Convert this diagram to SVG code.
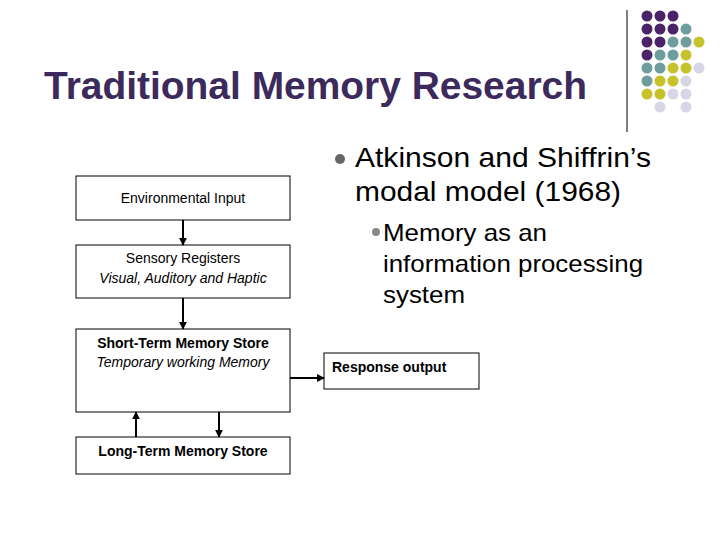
<svg xmlns="http://www.w3.org/2000/svg" width="720" height="540" viewBox="0 0 720 540">
<style>
.box{fill:#fff;stroke:#000;stroke-width:1}
.t{font-family:"Liberation Sans",Arial,sans-serif;fill:#000}
.c{stroke:#000;stroke-width:2;fill:none;marker-end:url(#a)}
.P{fill:#4a2368}.T{fill:#6f9c9c}.Y{fill:#c6c22c}.L{fill:#d6d6e6}
</style>
<defs><marker id="a" viewBox="0 0 10 10" refX="9" refY="5" markerWidth="4" markerHeight="4" orient="auto"><path d="M0,0L10,5L0,10z" fill="#000"/></marker></defs>
<rect width="720" height="540" fill="#fff"/>
<g id="decor">
<line x1="627" y1="10" x2="627" y2="132" stroke="#000" stroke-width="1"/>
<g>
<circle class="P" cx="647" cy="16" r="5.5"/><circle class="P" cx="660" cy="16" r="5.5"/><circle class="P" cx="673" cy="16" r="5.5"/>
<circle class="P" cx="647" cy="29" r="5.5"/><circle class="P" cx="660" cy="29" r="5.5"/><circle class="P" cx="673" cy="29" r="5.5"/><circle class="T" cx="686" cy="29" r="5.5"/>
<circle class="P" cx="647" cy="42" r="5.5"/><circle class="P" cx="660" cy="42" r="5.5"/><circle class="T" cx="673" cy="42" r="5.5"/><circle class="T" cx="686" cy="42" r="5.5"/><circle class="Y" cx="699" cy="42" r="5.5"/>
<circle class="P" cx="647" cy="55" r="5.5"/><circle class="T" cx="660" cy="55" r="5.5"/><circle class="T" cx="673" cy="55" r="5.5"/><circle class="Y" cx="686" cy="55" r="5.5"/>
<circle class="T" cx="647" cy="68" r="5.5"/><circle class="T" cx="660" cy="68" r="5.5"/><circle class="Y" cx="673" cy="68" r="5.5"/><circle class="Y" cx="686" cy="68" r="5.5"/><circle class="L" cx="699" cy="68" r="5.5"/>
<circle class="T" cx="647" cy="81" r="5.5"/><circle class="Y" cx="660" cy="81" r="5.5"/><circle class="Y" cx="673" cy="81" r="5.5"/><circle class="L" cx="686" cy="81" r="5.5"/>
<circle class="Y" cx="647" cy="94" r="5.5"/><circle class="Y" cx="660" cy="94" r="5.5"/><circle class="L" cx="673" cy="94" r="5.5"/><circle class="L" cx="686" cy="94" r="5.5"/>
<circle class="L" cx="660" cy="107" r="5.5"/><circle class="L" cx="686" cy="107" r="5.5"/>
</g>
<text x="44" y="99" class="t" font-size="38" font-weight="bold" textLength="543" lengthAdjust="spacingAndGlyphs" style="fill:#3d2a5c">Traditional Memory Research</text>
</g>
<g id="bullets">
<circle cx="340" cy="159" r="5" fill="#666"/>
<text class="t" x="355" y="167" font-size="28" textLength="296" lengthAdjust="spacingAndGlyphs">Atkinson and Shiffrin’s</text>
<text class="t" x="355" y="201" font-size="28" textLength="266" lengthAdjust="spacingAndGlyphs">modal model (1968)</text>
<circle cx="376" cy="232" r="4" fill="#888"/>
<text class="t" x="383" y="241" font-size="24" textLength="164" lengthAdjust="spacingAndGlyphs">Memory as an</text>
<text class="t" x="383" y="272" font-size="24" textLength="260" lengthAdjust="spacingAndGlyphs">information processing</text>
<text class="t" x="383" y="303" font-size="24" textLength="82" lengthAdjust="spacingAndGlyphs">system</text>
</g>
<g id="env"><rect class="box" x="76" y="176" width="214" height="44"/><text class="t" x="183" y="203" font-size="14" text-anchor="middle">Environmental Input</text></g>
<g id="sensory"><rect class="box" x="76" y="245" width="214" height="53"/><text class="t" x="183" y="263" font-size="14" text-anchor="middle">Sensory Registers</text><text class="t" x="183" y="283" font-size="14" font-style="italic" text-anchor="middle">Visual, Auditory and Haptic</text></g>
<g id="stm"><rect class="box" x="76" y="329" width="214" height="83"/><text class="t" x="183" y="348" font-size="14" font-weight="bold" text-anchor="middle">Short-Term Memory Store</text><text class="t" x="183" y="367" font-size="14" font-style="italic" text-anchor="middle">Temporary working Memory</text></g>
<g id="ltm"><rect class="box" x="76" y="437" width="214" height="37"/><text class="t" x="183" y="456" font-size="14" font-weight="bold" text-anchor="middle">Long-Term Memory Store</text></g>
<g id="resp"><rect class="box" x="324" y="353" width="155" height="36"/><text class="t" x="332" y="372" font-size="14" font-weight="bold">Response output</text></g>
<g id="connectors">
<path class="c" d="M183,220V245"/>
<path class="c" d="M183,298V329"/>
<path class="c" d="M290,378H324"/>
<path class="c" d="M219,412V437"/>
<path class="c" d="M136,437V412"/>
</g>
</svg>
